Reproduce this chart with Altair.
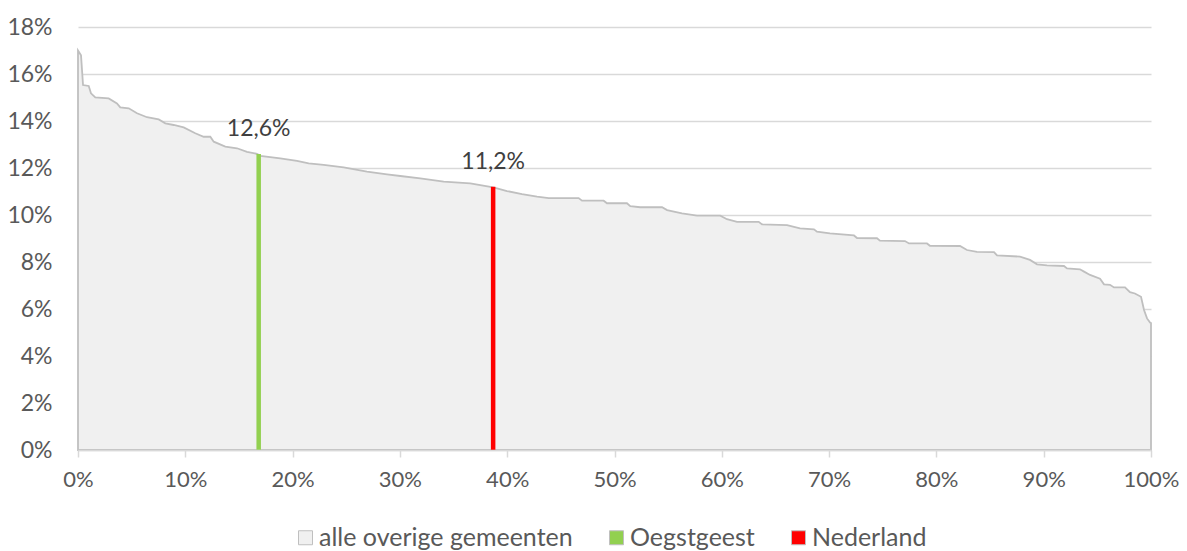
import altair as alt
import pandas as pd

# share of municipalities (x, %) vs value (y, %)
curve_x = [0.0, 0.28, 0.47, 1.0, 1.21, 1.61, 2.86, 3.63, 3.94, 4.73, 5.5, 6.43, 7.52, 8.14,
           8.92, 9.85, 10.93, 11.71, 12.33, 12.65, 13.73, 14.82, 15.75, 16.68, 16.99, 18.85,
           20.41, 21.5, 22.9, 24.76, 26.93, 28.8, 30.04, 31.9, 34.08, 36.56, 38.43, 39.05,
           39.98, 41.38, 42.78, 43.87, 46.66, 46.97, 48.99, 49.3, 51.16, 51.47, 52.4, 54.43,
           54.9, 56.29, 57.69, 59.86, 60.48, 61.42, 63.44, 63.75, 66.08, 67.29, 68.59, 68.87,
           70.08, 72.32, 72.6, 74.46, 74.74, 77.07, 77.45, 79.12, 79.4, 82.2, 82.85, 83.78,
           85.37, 85.65, 87.79, 88.72, 89.38, 90.31, 91.89, 92.17, 93.38, 93.76, 94.32, 95.25,
           95.62, 96.18, 96.55, 97.58, 98.04, 98.5, 99.07, 99.35, 99.63, 99.91, 100.0]
curve_y = [17.0, 16.8, 15.53, 15.49, 15.18, 15.0, 14.96, 14.75, 14.58, 14.54, 14.33, 14.16,
           14.07, 13.9, 13.83, 13.73, 13.48, 13.33, 13.33, 13.12, 12.91, 12.84, 12.69, 12.6,
           12.52, 12.41, 12.3, 12.2, 12.13, 12.03, 11.85, 11.73, 11.66, 11.56, 11.42, 11.35,
           11.2, 11.13, 11.02, 10.89, 10.78, 10.72, 10.72, 10.61, 10.61, 10.5, 10.5, 10.38,
           10.33, 10.33, 10.21, 10.07, 9.97, 9.97, 9.82, 9.71, 9.71, 9.6, 9.57, 9.43, 9.39,
           9.29, 9.22, 9.13, 9.02, 9.01, 8.91, 8.89, 8.79, 8.79, 8.69, 8.68, 8.51, 8.43, 8.42,
           8.28, 8.23, 8.09, 7.9, 7.86, 7.83, 7.73, 7.69, 7.59, 7.45, 7.29, 7.05, 7.03, 6.92,
           6.92, 6.72, 6.66, 6.52, 5.96, 5.6, 5.42, 5.4]

marker_names = ["Oegstgeest", "Nederland"]
marker_x = [16.84, 38.69]
marker_y = [12.6, 11.2]
marker_labels = ["12,6%", "11,2%"]

series_names = ["alle overige gemeenten", "Oegstgeest", "Nederland"]
series_colors = ["#f0f0f0", "#92d050", "#ff0000"]

x_ticks = list(range(0, 101, 10))
y_ticks = list(range(0, 19, 2))

curve = pd.DataFrame({"x": curve_x, "y": curve_y, "s": series_names[0]})
markers = pd.DataFrame({"x": marker_x, "y": marker_y, "s": marker_names, "label": marker_labels})

FONT = "Lato"

fill_enc = alt.Fill(
    "s:N",
    scale=alt.Scale(domain=series_names, range=series_colors),
    legend=alt.Legend(
        title=None, orient="none", legendX=215, legendY=498, direction="horizontal",
        symbolType="square", symbolSize=196, symbolStrokeColor="#bfbfbf",
        symbolStrokeWidth=1, labelFontSize=25, labelColor="#595959", labelFont=FONT,
        columnPadding=31, labelOffset=1, padding=0, labelLimit=500,
    ),
)

x_enc = alt.X(
    "x:Q",
    scale=alt.Scale(domain=[0, 100], nice=False, zero=False, padding=0),
    axis=alt.Axis(
        values=x_ticks, labelExpr="datum.value + '%'", title=None, grid=False,
        domainColor="#d9d9d9", domainWidth=1.5, tickColor="#d9d9d9", tickWidth=1.5,
        tickSize=7, labelPadding=12, labelFontSize=22, labelColor="#595959",
        labelFont=FONT, zindex=1, labelFlush=False, labelOverlap=False,
    ),
)
y_enc = alt.Y(
    "y:Q",
    scale=alt.Scale(domain=[0, 18], nice=False),
    axis=alt.Axis(
        values=y_ticks, labelExpr="datum.value + '%'", title=None, grid=True,
        gridColor="#d9d9d9", gridWidth=1.5, domain=False, ticks=False,
        labelPadding=26, labelFontSize=23, labelColor="#595959", labelFont=FONT,
    ),
)

area = alt.Chart(curve).mark_area(stroke="#bfbfbf", strokeWidth=1.8, opacity=1).encode(
    x=x_enc, y=y_enc, fill=fill_enc
)

bars = alt.Chart(markers).mark_bar(size=4.5).encode(
    x="x:Q", y="y:Q", y2=alt.datum(0), fill="s:N"
)

labels = alt.Chart(markers).mark_text(
    dy=-25, fontSize=23, color="#404040", font=FONT, baseline="middle", align="center"
).encode(x="x:Q", y="y:Q", text="label:N")

chart = alt.layer(area, bars, labels).properties(
    width=1073, height=423,
    autosize=alt.AutoSizeParams(type="none"),
    padding={"left": 70, "top": 19, "right": 28, "bottom": 102},
).configure_view(stroke=None)

chart.save("out.html", embed_options={"renderer": "svg", "actions": False})
